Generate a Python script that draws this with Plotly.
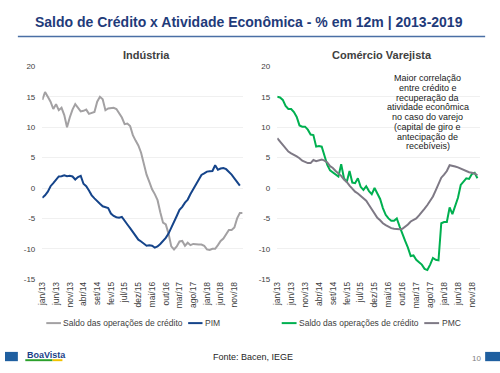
import plotly.graph_objects as go

months = ["jan", "fev", "mar", "abr", "mai", "jun", "jul", "ago", "set", "out", "nov", "dez"]
tick_idx = list(range(0, 71, 5))
tick_labels = ["jan/13", "jun/13", "nov/13", "abr/14", "set/14", "fev/15", "jul/15", "dez/15",
               "mai/16", "out/16", "mar/17", "ago/17", "jan/18", "jun/18", "nov/18"]
y_ticks = [20, 15, 10, 5, 0, -5, -10, -15]
y_tick_text = ["20", "15", "10", "5", "0", "-5", "-10", "-15"]

# Indústria
credito_ind = [14.5, 15.8, 15.0, 14.2, 13.0, 13.8, 12.8, 13.2, 12.0, 10.0,
               11.6, 12.9, 13.8, 13.1, 12.6, 12.7, 12.9, 12.2, 12.4, 12.5,
               14.2, 15.0, 14.6, 12.8, 13.1, 13.2, 13.2, 13.0, 12.3, 11.6,
               10.5, 10.6, 10.2, 8.7, 7.8, 7.0, 5.8, 4.0, 2.2, 1.0,
               -0.2, -1.0, -2.0, -4.0, -5.7, -6.0, -7.5, -9.6, -10.1, -9.6,
               -8.8, -8.7, -9.5, -9.0, -9.4, -9.2, -9.3, -9.3, -9.3, -9.5,
               -10.1, -10.2, -10.0, -10.0, -9.4, -8.7, -8.3, -7.7, -6.9, -6.9,
               -6.5, -5.0, -4.1, -4.1]
pim = [-1.6, -1.2, -0.6, 0.3, 0.8, 1.4, 1.9, 1.95, 2.1, 1.95,
       2.0, 1.9, 1.4, 1.8, 2.0, 0.7, 0.3, -0.4, -1.2, -1.7,
       -2.2, -2.6, -3.0, -3.2, -3.3, -4.2, -4.6, -4.8, -4.9, -4.75,
       -5.3, -6.0, -6.6, -7.2, -7.8, -8.5, -8.8, -9.2, -9.5, -9.4,
       -9.5, -9.8, -9.6, -9.2, -8.7, -8.2, -7.5, -6.6, -5.5, -4.6,
       -3.6, -3.1, -2.4, -1.9, -1.0, -0.2, 0.6, 1.5, 2.15, 2.4,
       2.7, 2.75, 2.8, 3.75, 3.0, 3.2, 3.3, 3.1, 2.7, 2.2,
       1.6, 1.0, 0.4]

# Comércio Varejista
credito_var = [15.0, 14.9, 14.5, 13.5, 13.0, 13.0, 12.5, 11.7, 10.3, 10.1,
               10.1, 9.6, 8.8, 8.7, 6.8, 6.9, 6.8, 5.3, 3.8, 2.9,
               2.6, 2.2, 1.9, 3.9, 1.6, 1.0, 2.8, 0.9, 0.8, 1.6,
               0.2, -0.3, 0.3, -0.5, -1.0, 0.0, -0.8, -1.8, -3.3, -4.4,
               -5.0, -5.4, -5.4, -5.0, -6.3, -7.6, -8.7, -9.8, -11.2, -11.1,
               -11.8, -12.2, -12.6, -13.3, -13.5, -12.6, -11.5, -11.8, -11.9, -5.8,
               -5.6, -5.6, -3.2, -4.3, -2.8, -1.6, 0.5, 1.1, 1.6, 1.5,
               2.3, 2.5, 1.6]
pmc = [8.2, 7.6, 7.0, 6.6, 6.0, 5.7, 5.5, 5.2, 4.9, 4.5,
       4.3, 4.1, 4.1, 4.6, 4.4, 4.6, 4.7, 4.5, 4.2, 3.6,
       3.3, 2.8, 2.4, 2.0, 1.4, 1.0, 0.4, -0.1, -0.6, -0.9,
       -1.3, -1.7, -2.1, -2.8, -3.5, -4.3, -4.9, -5.3, -5.8, -6.1,
       -6.4, -6.6, -6.7, -6.8, -6.8, -6.7, -6.4, -6.0, -5.5, -5.3,
       -5.0, -4.5, -4.0, -3.4, -2.8, -2.1, -1.4, -0.4, 0.7, 1.7,
       2.2, 2.8, 3.75, 3.7, 3.55, 3.4, 3.2, 2.9, 2.8, 2.6,
       2.5, 2.4, 2.1]

FONT = "Liberation Sans, Arial, sans-serif"
W, H = 500, 373


def px(x):
    return x / W


def py(y):
    return 1 - y / H


def month_labels(n):
    return [f"{months[i % 12]}/{13 + i // 12}" for i in range(n)]


fig = go.Figure()
fig.add_trace(go.Scatter(x=list(range(len(credito_ind))), y=credito_ind, mode="lines",
                         line=dict(color="#A3A1A3", width=2), name="Saldo das operações de crédito",
                         text=month_labels(len(credito_ind)), xaxis="x", yaxis="y"))
fig.add_trace(go.Scatter(x=list(range(len(pim))), y=pim, mode="lines",
                         line=dict(color="#15448A", width=2), name="PIM",
                         text=month_labels(len(pim)), xaxis="x", yaxis="y"))
fig.add_trace(go.Scatter(x=list(range(len(credito_var))), y=credito_var, mode="lines",
                         line=dict(color="#00B050", width=2), name="Saldo das operações de crédito",
                         text=month_labels(len(credito_var)), xaxis="x2", yaxis="y2"))
fig.add_trace(go.Scatter(x=list(range(len(pmc))), y=pmc, mode="lines",
                         line=dict(color="#7E7985", width=2), name="PMC",
                         text=month_labels(len(pmc)), xaxis="x2", yaxis="y2"))

xcommon = dict(range=[0, 73], tickvals=tick_idx, ticktext=tick_labels, tickangle=-90,
               showgrid=False, zeroline=False, showline=False,
               tickfont=dict(family=FONT, size=8.5, color="#404040"))
ycommon = dict(range=[-15, 20], tickvals=y_ticks, ticktext=y_tick_text,
               showgrid=True, gridcolor="#F0F0F0", gridwidth=1, zeroline=False, showline=False,
               tickfont=dict(family=FONT, size=8, color="#404040"), ticklabelstandoff=6)

ydom = [py(282), py(64)]
fig.update_layout(
    width=W, height=H, margin=dict(l=0, r=0, t=0, b=0),
    paper_bgcolor="white", plot_bgcolor="white", showlegend=False,
    font=dict(family=FONT),
    xaxis=dict(domain=[px(37.7), px(240)], anchor="y", **xcommon),
    yaxis=dict(domain=ydom, anchor="x", **ycommon),
    xaxis2=dict(domain=[px(275), px(480)], anchor="y2", **xcommon),
    yaxis2=dict(domain=ydom, anchor="x2", **ycommon),
)

annotations = [
    dict(x=px(246), y=py(18), text="<b>Saldo de Crédito x Atividade Econômica - % em 12m | 2013-2019</b>",
         font=dict(size=14, color="#1F3B7A")),
    dict(x=px(143), y=py(52), text="<b>Indústria</b>", font=dict(size=11, color="#404040")),
    dict(x=px(381), y=py(52), text="<b>Comércio Varejista</b>", font=dict(size=11, color="#404040")),
    dict(x=px(250), y=py(362), text="Fonte: Bacen, IEGE", font=dict(size=9, color="#262626")),
    dict(x=px(476), y=py(363), text="10", font=dict(size=8, color="#808080")),
    dict(x=px(20), y=py(359.5), text="<b>BoaVista</b>", xanchor="left",
         font=dict(size=9, color="#1B3F8A")),
]
note = ["Maior correlação", "entre crédito e", "recuperação da", "atividade econômica",
        "no caso do varejo", "(capital de giro e", "antecipação de", "recebíveis)"]
for i, line in enumerate(note):
    annotations.append(dict(x=px(427), y=py(76 + i * 10), text=line,
                            font=dict(size=9, color="#1A1A1A")))

legend_items = [
    (41.7, 56.5, "#A3A1A3", "Saldo das operações de crédito"),
    (185, 199.5, "#15448A", "PIM"),
    (279.5, 294.5, "#00B050", "Saldo das operações de crédito"),
    (423.5, 438.5, "#7E7985", "PMC"),
]
shapes = []
for x0, x1, col, label in legend_items:
    shapes.append(dict(type="line", xref="paper", yref="paper", x0=px(x0), x1=px(x1),
                       y0=py(327), y1=py(327), line=dict(color=col, width=2)))
    annotations.append(dict(x=px(x1 + 0.5), y=py(327), text=label, xanchor="left",
                            font=dict(size=8.5, color="#404040")))

for a in annotations:
    a.setdefault("xref", "paper")
    a.setdefault("yref", "paper")
    a.setdefault("showarrow", False)
    a.setdefault("xanchor", "center")
    a.setdefault("yanchor", "middle")

shapes += [
    dict(type="line", xref="paper", yref="paper", x0=px(13), x1=px(485), y0=py(33.3), y1=py(33.3),
         line=dict(color="#4A6FA5", width=1.5)),
    dict(type="rect", xref="paper", yref="paper", x0=0, x1=px(13), y0=py(366), y1=py(356.5),
         line=dict(width=0), fillcolor="#1F5FA0"),
    dict(type="rect", xref="paper", yref="paper", x0=px(485), x1=1, y0=py(366), y1=py(356.5),
         line=dict(width=0), fillcolor="#1F5FA0"),
    dict(type="rect", xref="paper", yref="paper", x0=px(20.5), x1=px(48), y0=py(366), y1=py(364),
         line=dict(width=0), fillcolor="#2CA02C"),
    dict(type="rect", xref="paper", yref="paper", x0=px(48), x1=px(58), y0=py(366), y1=py(364),
         line=dict(width=0), fillcolor="#F2C200"),
]

fig.update_layout(annotations=annotations, shapes=shapes)
fig.write_html("out.html", config={"displayModeBar": False},
               post_script="document.body.style.margin='0';document.body.style.padding='0';"
                           "document.documentElement.style.overflow='hidden';")
